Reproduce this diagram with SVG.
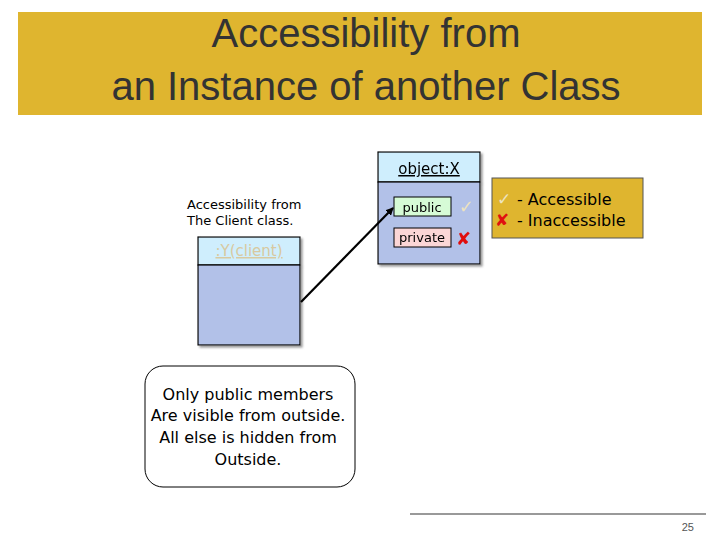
<svg xmlns="http://www.w3.org/2000/svg" width="720" height="540" viewBox="0 0 720 540">
<style>
.t{font-family:"DejaVu Sans",Verdana,sans-serif;fill:#000}
.title{font-family:"Liberation Sans",Arial,sans-serif;font-size:40px;fill:#333;text-anchor:middle}
.box{stroke:#000;stroke-width:1.2}
</style>
<defs><filter id="sh"><feDropShadow dx="2" dy="2" stdDeviation="1" flood-color="#999"/></filter>
<marker id="ah" markerWidth="8" markerHeight="8" refX="7" refY="4" orient="auto" markerUnits="userSpaceOnUse"><path d="M0,0 L8,4 L0,8 Z" fill="#000"/></marker></defs>
<rect width="720" height="540" fill="#fff"/>
<g id="title"><rect x="18" y="12" width="684" height="103" fill="#dfb52f"/>
<text class="title" x="366" y="47">Accessibility from</text>
<text class="title" x="366" y="100">an Instance of another Class</text></g>
<g id="objX" filter="url(#sh)">
<rect class="box" x="378" y="152" width="102" height="30" fill="#cfeefd"/>
<rect class="box" x="378" y="182" width="102" height="82" fill="#b2c1e8"/>
<text class="t" x="429" y="174" font-size="15" text-anchor="middle" text-decoration="underline">object:X</text>
<rect x="394" y="197" width="57" height="19" fill="#d6fbd6" stroke="#000"/>
<text class="t" x="422" y="212" font-size="13" text-anchor="middle">public</text>
<rect x="394" y="228" width="57" height="19" fill="#fbd6d6" stroke="#000"/>
<text class="t" x="422" y="242" font-size="13" text-anchor="middle">private</text>
<text x="459" y="213" font-size="18" fill="#ede3c0" font-family="DejaVu Sans,sans-serif">✓</text>
<text x="456" y="245" font-size="18" fill="#e01010" font-family="DejaVu Sans,sans-serif" font-weight="bold">✘</text>
</g>
<g id="legend"><rect x="492" y="178" width="151" height="60" fill="#dfb52f" stroke="#555"/>
<text x="497" y="205" font-size="17" fill="#ede3c0" font-family="DejaVu Sans,sans-serif">✓</text>
<text class="t" x="517" y="205" font-size="16">- Accessible</text>
<text x="495" y="226" font-size="17" fill="#e01010" font-family="DejaVu Sans,sans-serif" font-weight="bold">✘</text>
<text class="t" x="517" y="226" font-size="16">- Inaccessible</text></g>
<g id="client">
<text class="t" x="187" y="209" font-size="13" fill="#333">Accessibility from</text>
<text class="t" x="187" y="225" font-size="13" fill="#333">The Client class.</text>
<g filter="url(#sh)"><rect class="box" x="198" y="237" width="102" height="28" fill="#cfeefd"/>
<rect class="box" x="198" y="265" width="102" height="80" fill="#b2c1e8"/></g>
<text class="t" x="249" y="256" font-size="15" text-anchor="middle" text-decoration="underline" style="fill:#d8c9a0">:Y(client)</text></g>
<g id="connectors"><line x1="301" y1="302" x2="393" y2="208" stroke="#000" stroke-width="2.2" marker-end="url(#ah)"/></g>
<g id="note"><rect x="145" y="366" width="210" height="121" rx="18" fill="#fff" stroke="#000"/>
<text class="t" font-size="16" text-anchor="middle"><tspan x="248" y="400">Only public members</tspan><tspan x="248" y="421">Are visible from outside.</tspan><tspan x="248" y="443">All else is hidden from</tspan><tspan x="248" y="465">Outside.</tspan></text></g>
<g id="footer"><line x1="410" y1="514" x2="706" y2="514" stroke="#999" stroke-width="2"/>
<text x="694" y="531" font-size="11" fill="#555" text-anchor="end" font-family="Liberation Sans,Arial,sans-serif">25</text></g>
</svg>
